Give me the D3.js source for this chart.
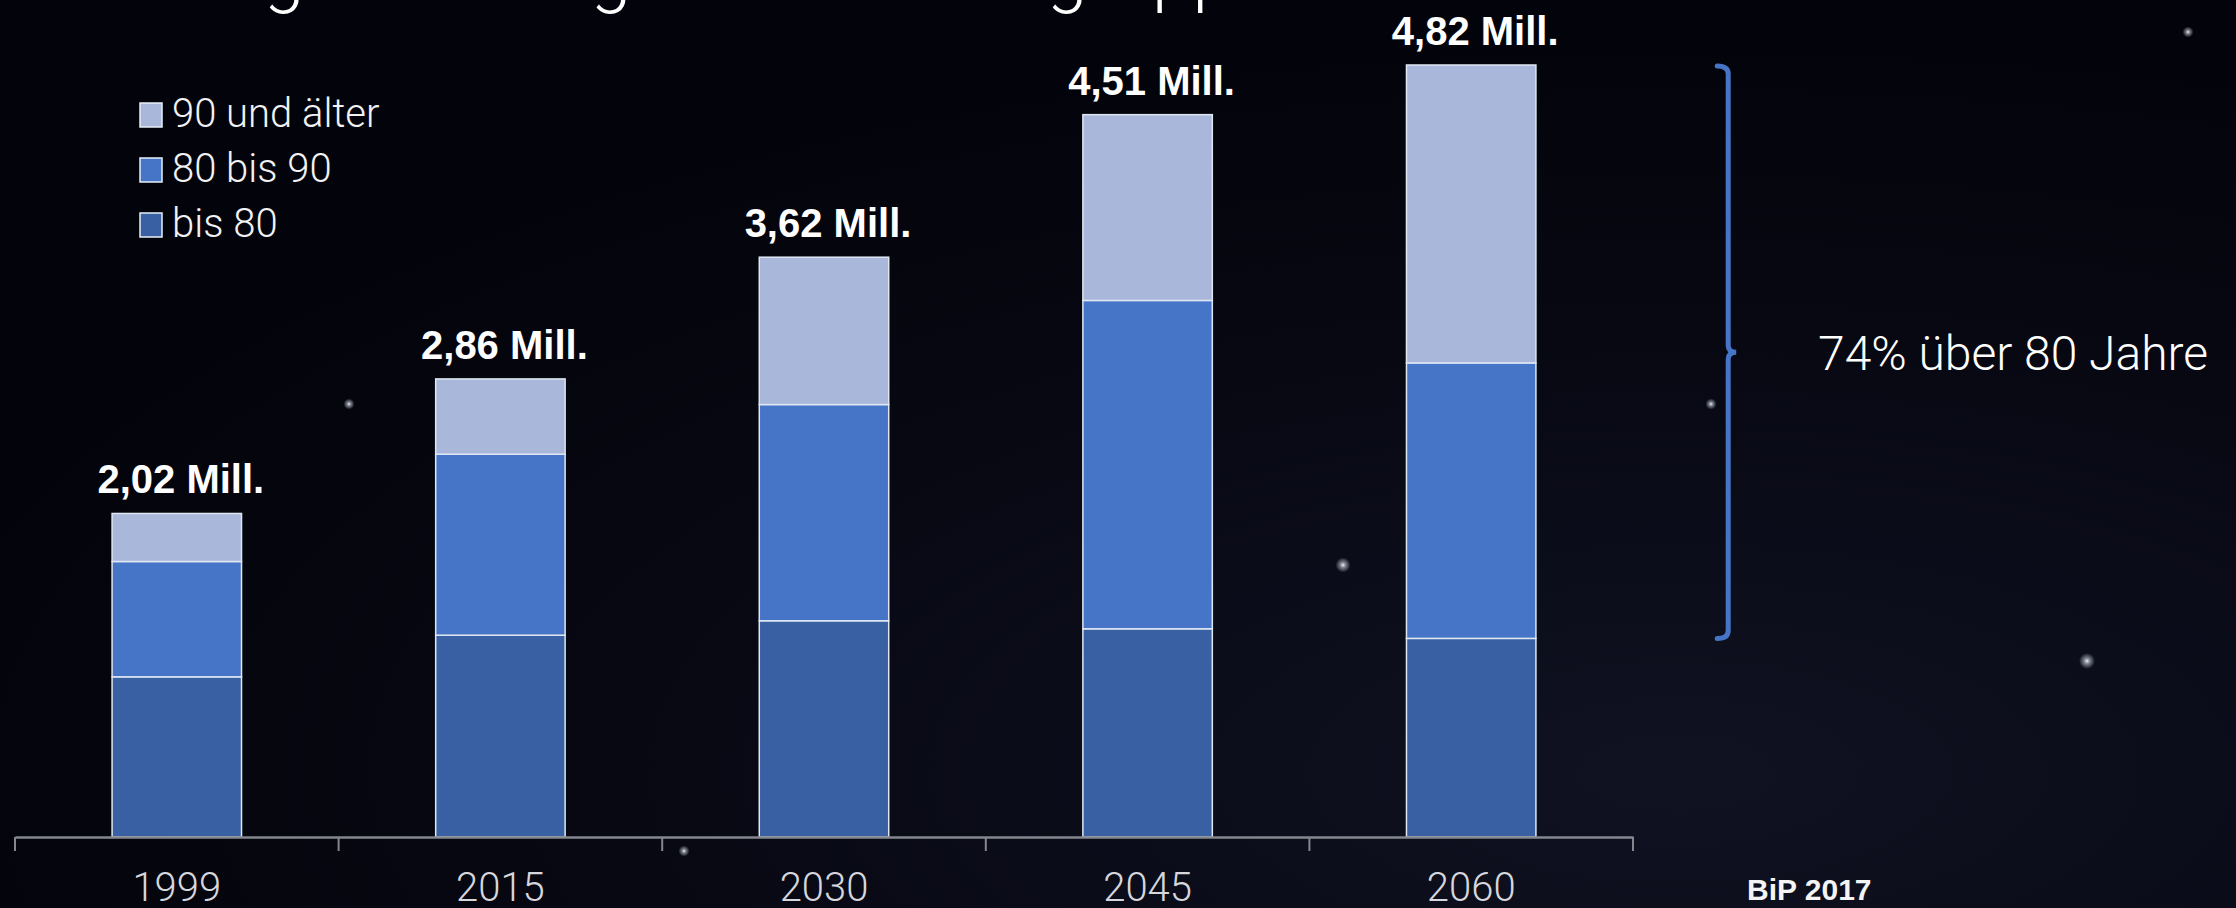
<!DOCTYPE html>
<html><head><meta charset="utf-8">
<script src="https://cdn.jsdelivr.net/npm/d3@7"></script>
<style>
html,body{margin:0;padding:0;background:#04050d;overflow:hidden;}
svg{display:block;}
text{font-family:"Liberation Sans","Helvetica Neue",Arial,sans-serif;}
.light{font-family:"Roboto","Liberation Sans",Arial,sans-serif;font-weight:300;}
</style></head>
<body>
<svg id="c" width="2236" height="908"></svg>
<script>
// ---- data ----
const years = ["1999","2015","2030","2045","2060"];
const seriesNames = ["bis 80","80 bis 90","90 und älter"];
const bis80 =     [1.00, 1.26, 1.35, 1.30, 1.24];
const bis90 =     [0.72, 1.13, 1.35, 2.05, 1.72];
const ueber90 =   [0.30, 0.47, 0.92, 1.16, 1.86];
const totalLabels = ["2,02 Mill.","2,86 Mill.","3,62 Mill.","4,51 Mill.","4,82 Mill."];
const legendOrder = ["90 und älter","80 bis 90","bis 80"];
const titleText = "Pflegebedürftige nach Altersgruppen";
const noteText = "74% über 80 Jahre";
const sourceText = "BiP 2017";
// decorative background stars (not data)
const stars = [[1343,565,3],[2087,661,3.2],[349,404,2.2],[684,851,2.2],[1711,404,2.2],[2188,32,2.2]];

const colors = {"bis 80":"#3860a3","80 bis 90":"#4674c6","90 und älter":"#a9b7db"};

(function(){
const W=2236,H=908;
const svg=d3.select("#c");

// background
const defs=svg.append("defs");
const rg=defs.append("radialGradient").attr("id","bg").attr("cx","0.75").attr("cy","0.85").attr("r","0.8");
rg.append("stop").attr("offset","0").attr("stop-color","#101222");
rg.append("stop").attr("offset","0.6").attr("stop-color","#070812");
rg.append("stop").attr("offset","1").attr("stop-color","#03040b");
svg.append("rect").attr("width",W).attr("height",H).attr("fill","url(#bg)");
const sg=defs.append("radialGradient").attr("id","star");
sg.append("stop").attr("offset","0").attr("stop-color","#ffffff").attr("stop-opacity",0.95);
sg.append("stop").attr("offset","0.35").attr("stop-color","#cfd3e0").attr("stop-opacity",0.6);
sg.append("stop").attr("offset","1").attr("stop-color","#cfd3e0").attr("stop-opacity",0);
svg.append("g").selectAll("circle").data(stars).join("circle")
  .attr("cx",d=>d[0]).attr("cy",d=>d[1]).attr("r",d=>d[2]*2.5).attr("fill","url(#star)");

// scales
const xb=d3.scaleBand().domain(years).range([15,1633]).padding(0);
const barW=xb.bandwidth()*0.40;
const y=d3.scaleLinear().domain([0,4.82]).range([837,65]);

const rows=years.map((yr,i)=>({year:yr,"bis 80":bis80[i],"80 bis 90":bis90[i],"90 und älter":ueber90[i]}));
const stack=d3.stack().keys(seriesNames)(rows);

// title (only descenders visible at top edge)
const title=svg.append("text").attr("class","light").attr("x",0).attr("y",-2).attr("font-size",100).attr("fill","#ffffff").text(titleText);
{
  const n=title.node();
  const c=(i)=>{const e=n.getExtentOfChar(i);return e.x+e.width/2;};
  const g1=titleText.indexOf("g"), g3=titleText.indexOf("g",titleText.indexOf("Alters"));
  const d=c(g3)-c(g1);
  const fs=100*(1067-284)/d;
  title.attr("font-size",fs);
  const off=284-c(g1);
  title.attr("x",off);
}

// bars
const layer=svg.append("g");
stack.forEach(s=>{
  layer.selectAll(null).data(s).join("rect")
    .attr("x",d=>xb(d.data.year)+(xb.bandwidth()-barW)/2)
    .attr("width",barW)
    .attr("y",d=>y(d[1]))
    .attr("height",d=>y(d[0])-y(d[1]))
    .attr("fill",colors[s.key])
    .attr("stroke","#dfe7f3")
    .attr("stroke-width",1.5);
});

// total labels
svg.append("g").selectAll("text").data(rows).join("text")
  .attr("x",(d)=>xb(d.year)+xb.bandwidth()/2+4)
  .attr("y",(d,i)=>y(bis80[i]+bis90[i]+ueber90[i])-20)
  .attr("text-anchor","middle").attr("font-size",40).attr("font-weight","bold")
  .attr("fill","#ffffff").text((d,i)=>totalLabels[i]);

// x axis
const ax=svg.append("g").attr("transform","translate(0,837)")
  .call(d3.axisBottom(xb).tickSize(0).tickPadding(0).tickSizeOuter(0));
ax.select(".domain").attr("stroke","#85878f").attr("stroke-width",2.5);
ax.selectAll(".tick text").attr("class","light").attr("font-size",40).attr("fill","#d6d7dc")
  .attr("dy",0).attr("y",64);
const bounds=years.map(d=>xb(d)).concat([xb.range()[1]]);
ax.append("g").selectAll("line").data(bounds).join("line")
  .attr("x1",d=>d).attr("x2",d=>d).attr("y1",0).attr("y2",14)
  .attr("stroke","#85878f").attr("stroke-width",2);

// legend
const lg=svg.append("g");
legendOrder.forEach((k,i)=>{
  const by=127+i*55;
  lg.append("rect").attr("x",140).attr("y",by-24).attr("width",22).attr("height",24)
    .attr("fill",colors[k]).attr("stroke","#e8eef8").attr("stroke-width",1.5);
  lg.append("text").attr("class","light").attr("x",172).attr("y",by).attr("font-size",40).attr("fill","#f2f2f4")
    .text(k);
});

// brace for 2060 (80+ share)
const li=years.length-1;
const bx=xb(years[li])+xb.bandwidth()/2+257;
const bTop=y(bis80[li]+bis90[li]+ueber90[li])+1, bBot=y(bis80[li]), bMid=(bTop+bBot)/2;
const p=d3.path();
p.moveTo(bx-11,bTop); p.quadraticCurveTo(bx,bTop,bx,bTop+8);
p.lineTo(bx,bMid-7); p.quadraticCurveTo(bx,bMid,bx+8,bMid);
p.quadraticCurveTo(bx,bMid,bx,bMid+7);
p.lineTo(bx,bBot-8); p.quadraticCurveTo(bx,bBot,bx-11,bBot);
svg.append("path").attr("d",p.toString()).attr("fill","none").attr("stroke","#4674c6").attr("stroke-width",5).attr("stroke-linecap","round");

svg.append("text").attr("class","light").attr("x",1818).attr("y",bMid+18).attr("font-size",48).attr("fill","#ffffff").text(noteText);

svg.append("text").attr("x",1747).attr("y",900).attr("font-size",30).attr("font-weight","bold").attr("fill","#f4f4f6").text(sourceText);
})();
</script>
</body></html>
